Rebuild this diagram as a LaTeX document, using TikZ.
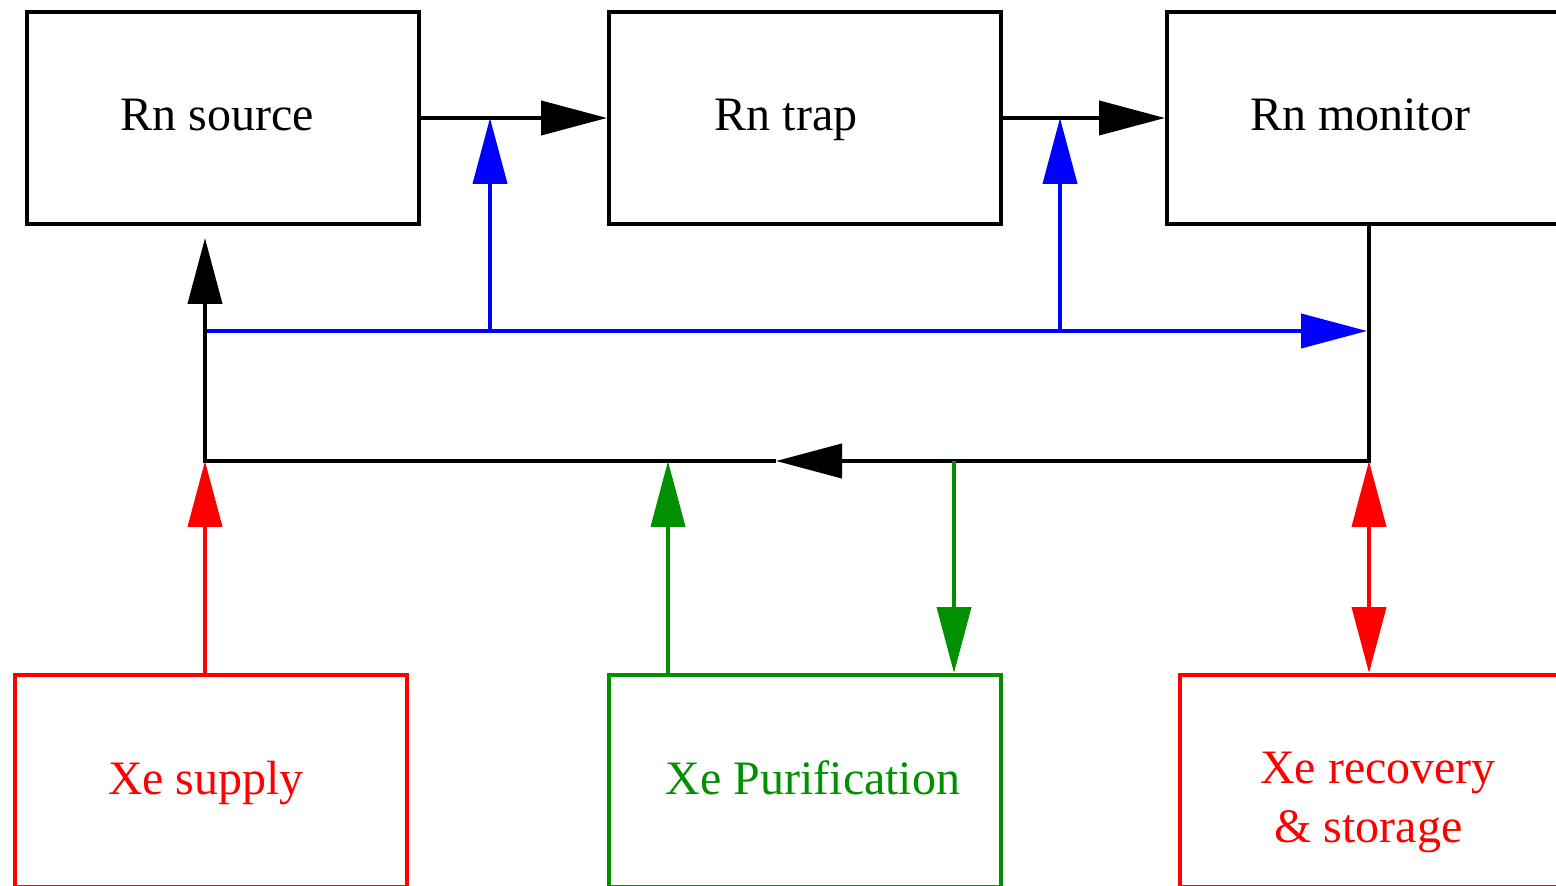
\documentclass[tikz,border=0pt]{standalone}
\usepackage{fontspec}
\setmainfont{Liberation Serif}
\usepackage{tikz}
\usetikzlibrary{arrows.meta,calc}
\definecolor{XeRed}  {RGB}{255,0,0}
\definecolor{XeGreen}{RGB}{0,144,0}
\definecolor{RnBlue} {RGB}{0,0,255}
\tikzset{
  nd_box/.style={rectangle,draw=black,line width=2pt,minimum width=196pt,minimum height=106pt,inner sep=0pt},
  nd_red/.style={nd_box,draw=XeRed},
  nd_green/.style={nd_box,draw=XeGreen},
  every label/.style={inner sep=0pt,align=center,text height=16pt,text depth=5pt,font=\fontsize{24}{29.5}\selectfont},
  arr/.style={-{Triangle[length=33pt,width=17pt]},line width=2pt},
  arr2/.style={{Triangle[length=33pt,width=17pt]}-{Triangle[length=33pt,width=17pt]},line width=2pt},
}

\begin{document}
\begin{tikzpicture}[x=0.5pt,y=-0.5pt]
\useasboundingbox (0,0) rectangle (1556,886);
% Rn line
\node[nd_box,label={[xshift=-3pt,yshift=-1pt]center:Rn source}] at (223,118)(rnsource){};
\node[nd_box,label={[xshift=-9.5pt,yshift=-1pt]center:Rn trap}] at (805,118)(rntrap){};
\node[nd_box,label={[xshift=-1.5pt,yshift=-1pt]center:Rn monitor}] at (1363,118)(rnmonitor){};
% Xe side
\node[nd_red,label={[xshift=-2.5pt,yshift=-1pt,XeRed]center:Xe supply}] at (211,781)(xesupply){};
\node[nd_green,label={[xshift=4pt,yshift=-1pt,XeGreen]center:Xe Purification}] at (805,781)(xepurif){};
\node[nd_red,label={[xshift=1pt,yshift=-25pt,XeRed]center:Xe recovery\\\hspace*{-0.4em}\& storage}] at (1376,781)(xerecov){};
% junctions
\coordinate (bW) at (205,331);\coordinate (bE) at (1367,331);
\coordinate (b1) at (490,331);\coordinate (b2) at (1060,331);
\coordinate (jSW) at (205,461);\coordinate (jSE) at (1369,461);
\coordinate (retmid) at (776,461);\coordinate (retin) at (205,238);
\coordinate (gIn) at (668,461);\coordinate (gOut) at (954,461);
% arrows
\draw[arr](rnsource.east)--(rntrap.west);
\draw[arr](rntrap.east)--(rnmonitor.west);
\draw[arr,RnBlue](bW)--(bE);
\draw[arr,RnBlue](b1)--(b1 |- rnsource.east);
\draw[arr,RnBlue](b2)--(b2 |- rntrap.east);
\draw[arr](jSE |- rnmonitor.south)--(jSE)--(retmid);
\draw[arr](retmid)--(jSW)--(retin);
\draw[arr,XeRed](jSW |- xesupply.north)--(jSW);
\draw[arr,XeGreen](gIn |- xepurif.north)--(gIn);
\draw[arr,XeGreen](gOut)--(gOut |- xepurif.north);
\draw[arr2,XeRed](jSE)--(jSE |- xerecov.north);
\end{tikzpicture}
\end{document}
